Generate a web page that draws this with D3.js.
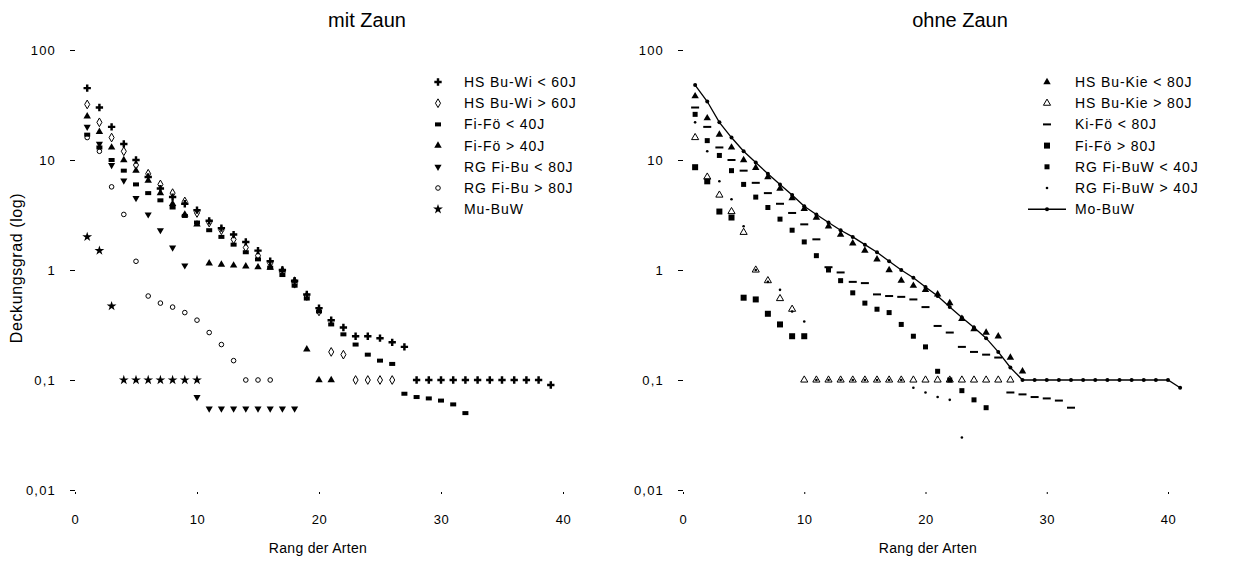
<!DOCTYPE html>
<html>
<head>
<meta charset="utf-8">
<script src="https://cdn.jsdelivr.net/npm/d3@7"></script>
<style>
  html, body { margin: 0; padding: 0; background: #fff; }
  svg { display: block; font-family: "Liberation Sans", Arial, sans-serif; }
</style>
</head>
<body>
<svg id="chart" width="1241" height="562"></svg>
<script>
// Rang-Abundanz-Kurven: Deckungsgrad je Art, nach Rang sortiert (Werte je Rang 1..n)

// --- mit Zaun ---
const mitLabels = ["HS Bu-Wi < 60J", "HS Bu-Wi > 60J", "Fi-Fö < 40J", "Fi-Fö > 40J",
                   "RG Fi-Bu < 80J", "RG Fi-Bu > 80J", "Mu-BuW"];
const mitHsJung = [45, 30, 20, 14, 10, 7, 5.5, 4.6, 4.0, 3.5, 2.8, 2.4, 2.1, 1.8, 1.5, 1.2, 1.0, 0.8, 0.6,
                   0.45, 0.35, 0.3, 0.25, 0.25, 0.24, 0.22, 0.2,
                   0.1, 0.1, 0.1, 0.1, 0.1, 0.1, 0.1, 0.1, 0.1, 0.1, 0.1, 0.09];
const mitHsAlt = [32, 22, 16, 12, 9, 7.5, 6, 5, 4.2, 3.3, 2.7, 2.3, 1.9, 1.6, 1.35, 1.15, 0.95, 0.75, 0.58,
                  0.42, 0.18, 0.17, 0.1, 0.1, 0.1, 0.1];
const mitFiJung = [17, 13, 10, 8, 6, 5, 4.3, 3.7, 3.1, 2.7, 2.3, 2.0, 1.7, 1.45, 1.25, 1.05, 0.9, 0.72, 0.55,
                   0.42, 0.32, 0.26, 0.21, 0.17, 0.15, 0.14, 0.075, 0.07, 0.068, 0.065, 0.06, 0.05];
const mitFiAlt = [25, 18, 13, 10, 8, 6.5, 5, 4, 3.2, 2.6, 1.15, 1.12, 1.1, 1.08, 1.06, 1.05, 1.0, 0.8, 0.19,
                  0.1, 0.1];
const mitRgJung = [20, 14, 9, 6.5, 4.5, 3.2, 2.3, 1.6, 1.1, 0.07, 0.055, 0.055, 0.055, 0.055, 0.055, 0.055,
                   0.055, 0.055];
const mitRgAlt = [16, 12, 5.7, 3.2, 1.2, 0.58, 0.5, 0.46, 0.41, 0.35, 0.27, 0.21, 0.15, 0.1, 0.1, 0.1];
const mitMu = [2.0, 1.5, 0.47, 0.1, 0.1, 0.1, 0.1, 0.1, 0.1, 0.1];

// --- ohne Zaun ---
const ohneLabels = ["HS Bu-Kie < 80J", "HS Bu-Kie > 80J", "Ki-Fö < 80J", "Fi-Fö > 80J",
                    "RG Fi-BuW < 40J", "RG Fi-BuW > 40J", "Mo-BuW"];
const ohneHsJung = [38, 24, 17, 13, 10, 8.5, 7, 5.5, 4.5, 3.6, 3.0, 2.5, 2.1, 1.75, 1.5, 1.25, 1.0, 0.8,
                    0.72, 0.66, 0.6, 0.5, 0.36, 0.29, 0.27, 0.25, 0.16, 0.12];
const ohneHsAlt = [16, 7, 4.8, 3.4, 2.2, 1.0, 0.8, 0.55, 0.44,
                   0.1, 0.1, 0.1, 0.1, 0.1, 0.1, 0.1, 0.1, 0.1, 0.1, 0.1, 0.1, 0.1, 0.1, 0.1, 0.1, 0.1, 0.1];
const ohneKiFo = [30, 20, 13, 10, 8, 6.2, 5, 4, 3.3, 2.6, 1.9, 1.06, 0.95, 0.78, 0.76, 0.6, 0.58, 0.57,
                  0.54, 0.46, 0.31, 0.27, 0.2, 0.18, 0.17, 0.16, 0.077, 0.074, 0.07, 0.068, 0.065, 0.056];
const ohneFiFo = [8.6, 6.4, 3.4, 3.0, 0.56, 0.54, 0.4, 0.32, 0.25, 0.25];
const ohneRgJung = [26, 15, 11, 8, 6, 4.6, 3.7, 2.9, 2.3, 1.8, 1.35, 1.0, 0.8, 0.62, 0.5, 0.44, 0.41,
                    0.32, 0.25, 0.2, 0.12, 0.1, 0.08, 0.066, 0.056];
const ohneRgAlt = [22, 12, 6.4, 4.4, 2.5, 1.0, 0.78, 0.66, 0.42, 0.34,
                   0.1, 0.1, 0.1, 0.1, 0.1, 0.1, 0.1, 0.1, 0.085, 0.077, 0.07, 0.066, 0.03];
const ohneMo = [48, 34, 22, 16, 12, 9.5, 7.5, 6, 4.8, 3.8, 3.2, 2.7, 2.3, 2.0, 1.7, 1.45, 1.2, 1.0, 0.85,
                0.7, 0.58, 0.46, 0.37, 0.3, 0.24, 0.18, 0.13,
                0.1, 0.1, 0.1, 0.1, 0.1, 0.1, 0.1, 0.1, 0.1, 0.1, 0.1, 0.1, 0.1, 0.085];

// axis ticks
const xTicks = [0, 10, 20, 30, 40];
const yTicks = [0.01, 0.1, 1, 10, 100];
const yTickLabels = ["0,01", "0,1", "1", "10", "100"];

const mitSeries = [mitHsJung, mitHsAlt, mitFiJung, mitFiAlt, mitRgJung, mitRgAlt, mitMu];
const mitMarkers = ["cross", "diamondOpen", "bar", "triangle", "triangleDown", "circleOpen", "star"];
const ohneSeries = [ohneHsJung, ohneHsAlt, ohneKiFo, ohneFiFo, ohneRgJung, ohneRgAlt, ohneMo];
const ohneMarkers = ["triangle", "triangleOpen", "dash", "square", "squareSmall", "dot", "lineDot"];

const svg = d3.select("#chart");

function drawMarker(g, type, x, y) {
  const sym = (t, s) => d3.symbol().type(t).size(s)();
  switch (type) {
    case "cross":
      g.append("path").attr("d", sym(d3.symbolCross, 30)).attr("transform", `translate(${x},${y})`).attr("fill", "#000");
      break;
    case "diamondOpen":
      g.append("path").attr("d", sym(d3.symbolDiamond, 22)).attr("transform", `translate(${x},${y})`)
        .attr("fill", "none").attr("stroke", "#000").attr("stroke-width", 1);
      break;
    case "bar":
      g.append("rect").attr("x", x - 3).attr("y", y - 2).attr("width", 6).attr("height", 4).attr("fill", "#000");
      break;
    case "triangle":
      g.append("path").attr("d", sym(d3.symbolTriangle, 24)).attr("transform", `translate(${x},${y})`).attr("fill", "#000");
      break;
    case "triangleDown":
      g.append("path").attr("d", sym(d3.symbolTriangle, 22)).attr("transform", `translate(${x},${y}) rotate(180)`).attr("fill", "#000");
      break;
    case "circleOpen":
      g.append("circle").attr("cx", x).attr("cy", y).attr("r", 2.3)
        .attr("fill", "none").attr("stroke", "#000").attr("stroke-width", 1);
      break;
    case "star":
      g.append("path").attr("d", sym(d3.symbolStar, 30)).attr("transform", `translate(${x},${y})`).attr("fill", "#000");
      break;
    case "triangleOpen":
      g.append("path").attr("d", sym(d3.symbolTriangle, 22)).attr("transform", `translate(${x},${y})`)
        .attr("fill", "none").attr("stroke", "#000").attr("stroke-width", 1);
      break;
    case "dash":
      g.append("rect").attr("x", x - 4).attr("y", y - 1).attr("width", 8).attr("height", 2).attr("fill", "#000");
      break;
    case "square":
      g.append("rect").attr("x", x - 3).attr("y", y - 3).attr("width", 6).attr("height", 6).attr("fill", "#000");
      break;
    case "squareSmall":
      g.append("rect").attr("x", x - 2.5).attr("y", y - 2.5).attr("width", 5).attr("height", 5).attr("fill", "#000");
      break;
    case "dot":
      g.append("circle").attr("cx", x).attr("cy", y).attr("r", 1.3).attr("fill", "#000");
      break;
    case "lineDot":
      g.append("circle").attr("cx", x).attr("cy", y).attr("r", 2).attr("fill", "#000");
      break;
  }
}

function drawPanel(opt) {
  const g = svg.append("g");
  const x = d3.scaleLinear().domain([0, 40]).range([opt.left, opt.right]);
  const y = d3.scaleLog().domain([0.01, 100]).range([490, 50]);

  // y axis (tick marks only)
  const yAxis = d3.axisLeft(y).tickValues(yTicks)
    .tickFormat((d, i) => yTickLabels[i]).tickSize(5).tickPadding(opt.yPad);
  const ya = g.append("g").attr("transform", `translate(${opt.left},0)`).call(yAxis);
  ya.select(".domain").remove();
  ya.selectAll("text").attr("font-size", 13).attr("letter-spacing", 1.2)
    .attr("font-family", "Liberation Sans, Arial, sans-serif");

  // x axis (tick marks only)
  const xAxis = d3.axisBottom(x).tickValues(xTicks).tickSize(2).tickPadding(21);
  const xa = g.append("g").attr("transform", "translate(0,492)").call(xAxis);
  xa.select(".domain").remove();
  xa.selectAll("text").attr("font-size", 13).attr("letter-spacing", 0.6)
    .attr("font-family", "Liberation Sans, Arial, sans-serif");

  // series
  opt.series.forEach((vals, si) => {
    const type = opt.markers[si];
    const sg = g.append("g");
    if (type === "lineDot") {
      const line = d3.line().x((d, i) => x(i + 1)).y(d => y(d));
      sg.append("path").attr("d", line(vals)).attr("fill", "none").attr("stroke", "#000").attr("stroke-width", 1.3);
    }
    vals.forEach((v, i) => drawMarker(sg, type, x(i + 1), y(v)));
  });

  // legend
  const lg = g.append("g");
  opt.labels.forEach((lab, i) => {
    const ly = opt.legendTop + i * 21.2;
    const type = opt.markers[i];
    if (type === "lineDot") {
      lg.append("line").attr("x1", opt.legendX - 19).attr("x2", opt.legendX + 19)
        .attr("y1", ly).attr("y2", ly).attr("stroke", "#000").attr("stroke-width", 1.5);
    }
    drawMarker(lg, type, opt.legendX, ly);
    lg.append("text").attr("x", opt.legendX + opt.textGap).attr("y", ly + 5)
      .attr("font-size", 14).attr("letter-spacing", 0.9).text(lab);
  });

  // title and x axis title
  g.append("text").attr("x", opt.titleX).attr("y", 27).attr("text-anchor", "middle")
    .attr("font-size", 20).text(opt.title);
  g.append("text").attr("x", opt.xTitleX).attr("y", 553).attr("text-anchor", "middle")
    .attr("font-size", 14).attr("letter-spacing", 0.3).text("Rang der Arten");
  return g;
}

drawPanel({
  left: 75, right: 563, yPad: 14,
  series: mitSeries, markers: mitMarkers, labels: mitLabels,
  legendX: 438, legendTop: 82, textGap: 26,
  title: "mit Zaun", titleX: 367, xTitleX: 318
});

drawPanel({
  left: 683, right: 1168, yPad: 14,
  series: ohneSeries, markers: ohneMarkers, labels: ohneLabels,
  legendX: 1047, legendTop: 82, textGap: 28,
  title: "ohne Zaun", titleX: 960, xTitleX: 928
});

// y axis title
svg.append("text").attr("transform", "translate(22,268) rotate(-90)")
  .attr("text-anchor", "middle").attr("font-size", 16).attr("letter-spacing", 0.6)
  .text("Deckungsgrad (log)");
</script>
</body>
</html>
